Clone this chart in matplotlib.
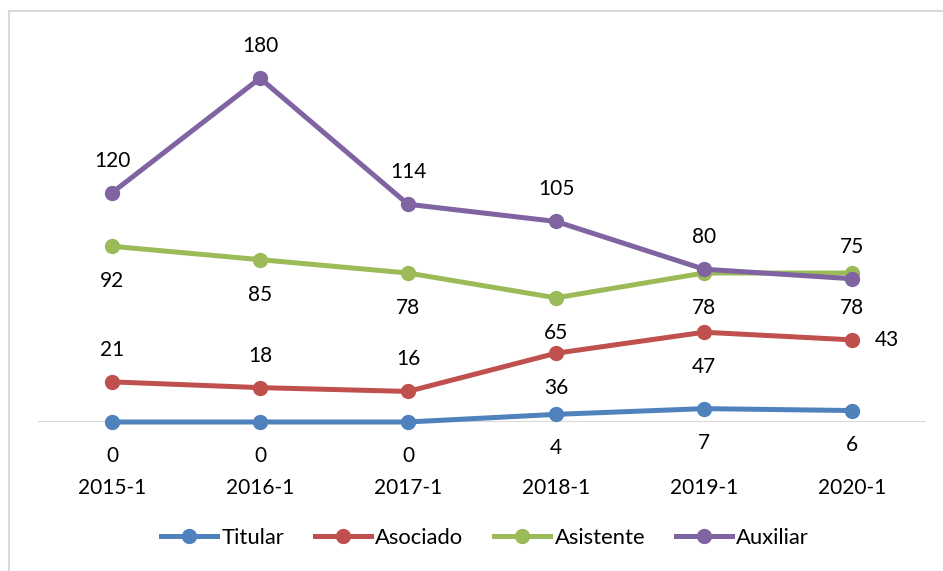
import matplotlib
matplotlib.use('Agg')
import matplotlib.pyplot as plt
from matplotlib.lines import Line2D

plt.rcParams['font.family'] = ['Lato', 'DejaVu Sans']

periodos = ['2015-1', '2016-1', '2017-1', '2018-1', '2019-1', '2020-1']
titular = [0, 0, 0, 4, 7, 6]
asociado = [21, 18, 16, 36, 47, 43]
asistente = [92, 85, 78, 65, 78, 78]
auxiliar = [120, 180, 114, 105, 80, 75]

series = [
    ('Titular', titular, '#4F81BD'),
    ('Asociado', asociado, '#C0504D'),
    ('Asistente', asistente, '#9BBB59'),
    ('Auxiliar', auxiliar, '#8064A2'),
]

# posicion de cada etiqueta (dx, dy en pixeles)
UP, DOWN, DOWN_T, RIGHT = (0, 32), (0, -35), (0, -34), (35, 0)
label_pos = {
    'Titular': [DOWN_T] * 6,
    'Asociado': [UP, UP, UP, DOWN, DOWN, RIGHT],
    'Asistente': [DOWN] * 6,
    'Auxiliar': [UP] * 6,
}

W, H = 943, 571
fig = plt.figure(figsize=(W / 100, H / 100), dpi=100)
ax = fig.add_axes([38 / W, 1 - 422 / H, (926 - 38) / W, (422 - 40) / H])

x = list(range(len(periodos)))
for name, vals, color in series:
    ax.plot(x, vals, color=color, lw=3.6, marker='o', markersize=10,
            solid_capstyle='round', label=name, zorder=3, clip_on=False)
    for i, v in enumerate(vals):
        dx, dy = label_pos[name][i]
        ax.annotate(str(v), (i, v), xytext=(dx, dy), textcoords='offset pixels',
                    ha='center', va='center', fontsize=15, color='black')

ax.set_xlim(-0.5, 5.5)
ax.set_ylim(0, 200)
ax.axhline(0, color='#D9D9D9', lw=1.5, zorder=1)
for s in ax.spines.values():
    s.set_visible(False)
ax.set_yticks([])
ax.set_xticks(x)
ax.set_xticklabels(periodos, fontsize=15)
ax.tick_params(axis='x', length=0, pad=40.5)

handles = [Line2D([], [], color=c, lw=3.6, marker='o', markersize=10) for _, _, c in series]
fig.legend(handles, [n for n, _, _ in series], loc='center',
           bbox_to_anchor=(485 / W, 1 - 538 / H), ncol=4, frameon=False,
           fontsize=15.8, handlelength=2.55, handletextpad=0.2, columnspacing=1.4)

# borde del area del grafico
fig.add_artist(Line2D([8.5 / W, 8.5 / W], [0, 1 - 10.5 / H], color='#D9D9D9', lw=1.5))
fig.add_artist(Line2D([8.5 / W, 1], [1 - 10.5 / H, 1 - 10.5 / H], color='#D9D9D9', lw=1.5))

fig.savefig('out.png', dpi=100)
